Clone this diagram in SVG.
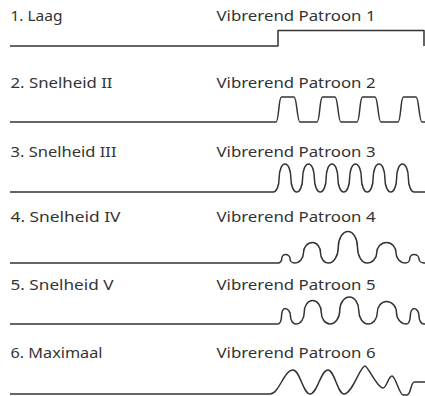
<svg xmlns="http://www.w3.org/2000/svg" width="425" height="396" viewBox="0 0 425 396">
<style>
text{font-family:"Noto Sans","Open Sans",sans-serif;font-size:15px;fill:#333}
.w{fill:none;stroke:#333;stroke-width:1.5;stroke-linejoin:round}
</style>
<rect width="425" height="396" fill="#fff"/>
<g id="row1">
<text x="10.5" y="21" textLength="52" lengthAdjust="spacingAndGlyphs">1. Laag</text>
<text x="216.5" y="21" textLength="159" lengthAdjust="spacingAndGlyphs">Vibrerend Patroon 1</text>
<path class="w" d="M10,46 H278 V30.5 H424 V46"/>
</g>
<g id="row2">
<text x="10.5" y="88" textLength="102" lengthAdjust="spacingAndGlyphs">2. Snelheid II</text>
<text x="216.5" y="88" textLength="159" lengthAdjust="spacingAndGlyphs">Vibrerend Patroon 2</text>
<path class="w" d="M10,122 H276 C279,122 278.5,97 281.5,97 H294 C297,97 297,122 300,122 H317 C320,122 319.5,97 322.5,97 H335 C338,97 338,122 341,122 H357 C360,122 359.5,97 362.5,97 H375 C378,97 378,122 381,122 H398 C401,122 400.5,97 403.5,97 H416 C419,97 419,122 422,122 H425"/>
</g>
<g id="row3">
<text x="10.5" y="157" textLength="106" lengthAdjust="spacingAndGlyphs">3. Snelheid III</text>
<text x="216.5" y="157" textLength="159" lengthAdjust="spacingAndGlyphs">Vibrerend Patroon 3</text>
<path class="w" d="M10,192 H273.25 A5.875 14 0 0 0 279.125,178 A5.875 14 0 0 1 290.875,178 A5.875 14 0 0 0 302.625,178 A5.875 14 0 0 1 314.375,178 A5.875 14 0 0 0 326.125,178 A5.875 14 0 0 1 337.875,178 A5.875 14 0 0 0 349.625,178 A5.875 14 0 0 1 361.375,178 A5.875 14 0 0 0 373.125,178 A5.875 14 0 0 1 384.875,178 A5.875 14 0 0 0 396.625,178 A5.875 14 0 0 1 408.375,178 A5.875 14 0 0 0 414.25,192 H425"/>
</g>
<g id="row4">
<text x="10.5" y="222" textLength="110" lengthAdjust="spacingAndGlyphs">4. Snelheid IV</text>
<text x="216.5" y="222" textLength="159" lengthAdjust="spacingAndGlyphs">Vibrerend Patroon 4</text>
<path class="w" d="M10,263 H278 A3.75 4.25 0 0 0 281.75,258.75 A3.75 4.25 0 0 1 285.5,254.5 A4.5 4.25 0 0 1 290,258.75 A4.5 4.25 0 0 0 294.5,263 A9 10.25 0 0 0 303.5,252.75 A9 10.25 0 0 1 312.5,242.5 A8 10.25 0 0 1 320.5,252.75 A8 10.25 0 0 0 328.5,263 A9.75 15.75 0 0 0 338.25,247.25 A9.75 15.75 0 0 1 348,231.5 A9.5 15.75 0 0 1 357.5,247.25 A9.5 15.75 0 0 0 367,263 A9.75 10.25 0 0 0 376.75,252.75 A9.75 10.25 0 0 1 386.5,242.5 A9.5 10.25 0 0 1 396,252.75 A9.5 10.25 0 0 0 405.5,263 A4.25 4.25 0 0 0 409.75,258.75 A4.25 4.25 0 0 1 414,254.5 A5 4.25 0 0 1 419,258.75 A5 4.25 0 0 0 424,263 H425"/>
</g>
<g id="row5">
<text x="10.5" y="290" textLength="103" lengthAdjust="spacingAndGlyphs">5. Snelheid V</text>
<text x="216.5" y="290" textLength="159" lengthAdjust="spacingAndGlyphs">Vibrerend Patroon 5</text>
<path class="w" d="M10,324 H278 A3.5 7.75 0 0 0 281.5,316.25 A3.5 7.75 0 0 1 285,308.5 A5.5 7.75 0 0 1 290.5,316.25 A5.5 7.75 0 0 0 296,324 A8.25 11.75 0 0 0 304.25,312.25 A8.25 11.75 0 0 1 312.5,300.5 A8.75 11.75 0 0 1 321.25,312.25 A8.75 11.75 0 0 0 330,324 A9.75 13.5 0 0 0 339.75,310.5 A9.75 13.5 0 0 1 349.5,297 A9.25 13.5 0 0 1 358.75,310.5 A9.25 13.5 0 0 0 368,324 A9.25 11.25 0 0 0 377.25,312.75 A9.25 11.25 0 0 1 386.5,301.5 A10 11.25 0 0 1 396.5,312.75 A10 11.25 0 0 0 406.5,324 A3.75 7.75 0 0 0 410.25,316.25 A3.75 7.75 0 0 1 414,308.5 A5 7.75 0 0 1 419,316.25 A5 7.75 0 0 0 424,324 H425"/>
</g>
<g id="row6">
<text x="10.5" y="358" textLength="92" lengthAdjust="spacingAndGlyphs">6. Maximaal</text>
<text x="216.5" y="358" textLength="159" lengthAdjust="spacingAndGlyphs">Vibrerend Patroon 6</text>
<path class="w" d="M10,394 H270 C279.2,394 283.8,370 293,370 C299.8,370 303.2,394 310,394 C317.2,394 320.8,370 328,370 C334.4,370 337.6,394 344,394 C352.4,394 360,366 365,366 C368,366 377,388 383,388 C386.6,388 388.4,376 392,376 C395.5,376 399.5,395 403,395 H407 C411,395 410.5,382 414.5,382 H425"/>
</g>
</svg>
